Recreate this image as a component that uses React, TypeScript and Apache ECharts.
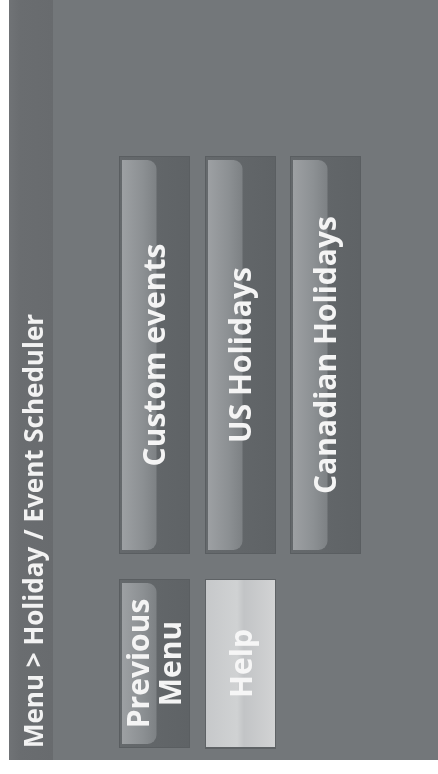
import React, { useEffect, useRef } from "react";
import * as echarts from "echarts";

const HEADER_TEXT = "Menu > Holiday / Event Scheduler";
const MAIN_BUTTONS = ["Custom events", "US Holidays", "Canadian Holidays"];
const SIDE_BUTTONS = ["Previous\nMenu", "Help"];
const SIDE_LIGHT = [false, true];

const W = 438;
const H = 774;
const FONT = "'Open Sans', 'DejaVu Sans', sans-serif";

const COL_X = [120, 206, 291];
const BTN_W = 69;

function darkButton(x: number, y: number, w: number, h: number, label: string): any[] {
  return [
    {
      type: "rect",
      shape: { x: x - 1, y: y - 1, width: w + 2, height: h + 2 },
      style: { fill: "#5a5e61" },
    },
    {
      type: "rect",
      shape: { x, y, width: w, height: h },
      style: {
        fill: {
          type: "linear", x: 0, y: 0, x2: 1, y2: 0,
          colorStops: [
            { offset: 0, color: "#65696c" },
            { offset: 1, color: "#5f6366" },
          ],
        },
      },
    },
    {
      type: "rect",
      shape: { x: x + 2, y: y + 3, width: w * 0.5, height: h - 6, r: [0, 9, 9, 0] },
      style: {
        fill: {
          type: "linear", x: 0, y: 0, x2: 1, y2: 0,
          colorStops: [
            { offset: 0, color: "#9da0a3" },
            { offset: 0.6, color: "#8c9093" },
            { offset: 1, color: "#7d8184" },
          ],
        },
      },
    },
    {
      type: "text",
      x: x + w / 2 - 1,
      y: y + h / 2,
      rotation: Math.PI / 2,
      style: {
        text: label,
        fill: "#f4f4f4",
        font: `bold 30px ${FONT}`,
        align: "center",
        verticalAlign: "middle",
        lineHeight: 32,
      },
    },
  ];
}

function lightButton(x: number, y: number, w: number, h: number, label: string): any[] {
  return [
    {
      type: "rect",
      shape: { x: x - 1, y: y - 1, width: w + 2, height: h + 3 },
      style: { fill: "#5e6265" },
    },
    {
      type: "rect",
      shape: { x, y, width: w, height: h },
      style: {
        fill: {
          type: "linear", x: 0, y: 0, x2: 1, y2: 0,
          colorStops: [
            { offset: 0, color: "#c6c8ca" },
            { offset: 0.45, color: "#d0d2d3" },
            { offset: 0.55, color: "#c2c4c6" },
            { offset: 1, color: "#d2d3d4" },
          ],
        },
      },
    },
    {
      type: "text",
      x: x + w / 2,
      y: y + h / 2,
      rotation: Math.PI / 2,
      style: {
        text: label,
        fill: "#f6f6f6",
        font: `bold 30px ${FONT}`,
        align: "center",
        verticalAlign: "middle",
      },
    },
  ];
}

export default function App() {
  const ref = useRef<HTMLDivElement>(null);
  useEffect(() => {
    if (!ref.current) return;
    const chart = echarts.init(ref.current, null, { renderer: "svg", width: W, height: H });
    const elements: any[] = [
      { type: "rect", shape: { x: 0, y: 0, width: W, height: H }, style: { fill: "#ffffff" } },
      { type: "rect", shape: { x: 9, y: 0, width: W - 9, height: 760 }, style: { fill: "#73777a" } },
      {
        type: "rect",
        shape: { x: 9, y: 0, width: 44, height: 760 },
        style: {
          fill: {
            type: "linear", x: 0, y: 0, x2: 1, y2: 0,
            colorStops: [
              { offset: 0, color: "#707376" },
              { offset: 0.25, color: "#6a6d70" },
              { offset: 1, color: "#686b6e" },
            ],
          },
        },
      },
      {
        type: "text",
        x: 33,
        y: 531,
        rotation: Math.PI / 2,
        style: {
          text: HEADER_TEXT,
          fill: "#f2f2f2",
          font: `bold 26px ${FONT}`,
          align: "center",
          verticalAlign: "middle",
        },
      },
    ];
    MAIN_BUTTONS.forEach((label, i) => {
      elements.push(...darkButton(COL_X[i], 157, BTN_W, 396, label));
    });
    SIDE_BUTTONS.forEach((label, i) => {
      if (SIDE_LIGHT[i]) elements.push(...lightButton(COL_X[i], 580, BTN_W, 167, label));
      else elements.push(...darkButton(COL_X[i], 580, BTN_W, 167, label));
    });
    chart.setOption({ animation: false, graphic: { elements } });
    return () => chart.dispose();
  }, []);
  return (
    <div
      ref={ref}
      style={{ position: "fixed", left: 0, top: 0, width: W, height: H }}
    />
  );
}
